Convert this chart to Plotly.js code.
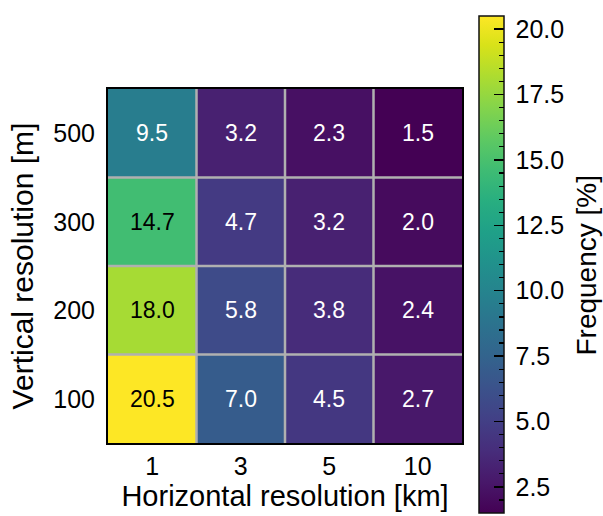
<!DOCTYPE html>
<html>
<head>
<meta charset="utf-8">
<script src="https://cdn.plot.ly/plotly-3.0.1.min.js"></script>
<style>html,body{margin:0;padding:0;background:#fff}#chart{width:603px;height:516px}</style>
</head>
<body>
<div id="chart"></div>
<script>
// Data
var horizontalRes = ['1', '3', '5', '10'];          // km
var verticalRes = ['100', '200', '300', '500'];     // m
var freq100 = [20.5, 7.0, 4.5, 2.7];
var freq200 = [18.0, 5.8, 3.8, 2.4];
var freq300 = [14.7, 4.7, 3.2, 2.0];
var freq500 = [9.5, 3.2, 2.3, 1.5];
var cbMajorTicks = [2.5, 5.0, 7.5, 10.0, 12.5, 15.0, 17.5, 20.0];
var cbMajorLabels = ['2.5', '5.0', '7.5', '10.0', '12.5', '15.0', '17.5', '20.0'];

var z = [freq100, freq200, freq300, freq500];
var zmin = 1.5, zmax = 20.5;
var xIdx = horizontalRes.map(function (_, i) { return i; });
var yIdx = verticalRes.map(function (_, i) { return i; });

var FONT = 'Liberation Sans, Arial, sans-serif';
var CLEAR = [[0, 'rgba(255,255,255,0)'], [1, 'rgba(255,255,255,0)']];

var cbMinorTicks = [];
for (var v = 2.0; v < 20.4; v += 0.5) {
  var r = Math.round(v * 10) / 10;
  if (Math.abs(r / 2.5 - Math.round(r / 2.5)) > 1e-6) cbMinorTicks.push(r);
}

function cbBase() {
  return {
    x: 1.048, xanchor: 'left', xpad: 0,
    y: 0.504, yanchor: 'middle', ypad: 0,
    len: 497, lenmode: 'pixels',
    thickness: 25, thicknessmode: 'pixels'
  };
}

// gradient + major ticks
var cbMain = cbBase();
cbMain.outlinewidth = 1.5; cbMain.outlinecolor = '#111';
cbMain.tickmode = 'array'; cbMain.tickvals = cbMajorTicks;
cbMain.ticks = 'inside'; cbMain.ticklen = 10; cbMain.tickwidth = 1.5; cbMain.tickcolor = '#000';
cbMain.showticklabels = false;

// minor ticks
var cbMinor = cbBase();
cbMinor.outlinewidth = 0;
cbMinor.tickmode = 'array'; cbMinor.tickvals = cbMinorTicks;
cbMinor.ticks = 'inside'; cbMinor.ticklen = 5; cbMinor.tickwidth = 1.2; cbMinor.tickcolor = '#000';
cbMinor.showticklabels = false;

// labels
var cbLabels = cbBase();
cbLabels.outlinewidth = 0;
cbLabels.tickmode = 'array'; cbLabels.tickvals = cbMajorTicks; cbLabels.ticktext = cbMajorLabels;
cbLabels.ticks = 'outside'; cbLabels.ticklen = 7; cbLabels.tickcolor = 'rgba(0,0,0,0)';
cbLabels.tickfont = {family: FONT, size: 25, color: '#000'};

var main = {
  type: 'heatmap', x: xIdx, y: yIdx, z: z, zmin: zmin, zmax: zmax,
  colorscale: 'Viridis', hoverinfo: 'skip', colorbar: cbMain
};
var minor = {
  type: 'heatmap', x: xIdx, y: yIdx, z: z, zmin: zmin, zmax: zmax,
  colorscale: CLEAR, hoverinfo: 'skip', colorbar: cbMinor
};
var labels = {
  type: 'heatmap', x: xIdx, y: yIdx, z: z, zmin: zmin, zmax: zmax,
  colorscale: CLEAR, hoverinfo: 'skip', colorbar: cbLabels
};

var annotations = [];
for (var i = 0; i < verticalRes.length; i++) {
  for (var j = 0; j < horizontalRes.length; j++) {
    var val = z[i][j];
    annotations.push({
      x: xIdx[j], y: yIdx[i], xref: 'x', yref: 'y',
      text: val.toFixed(1), showarrow: false,
      font: {family: FONT, size: 23, color: val > (zmin + zmax) / 2 ? '#000' : '#fff'}
    });
  }
}
annotations.push({
  xref: 'paper', yref: 'paper', x: 1.352, y: 0.503, xanchor: 'center', yanchor: 'middle',
  text: 'Frequency [%]', textangle: -90, showarrow: false,
  font: {family: FONT, size: 28, color: '#000'}
});

var shapes = [];
for (var k = 0; k < horizontalRes.length - 1; k++) {
  shapes.push({type: 'line', xref: 'x', yref: 'paper', x0: k + 0.5, x1: k + 0.5, y0: 0, y1: 1,
    line: {color: '#b0b0b0', width: 2.5}});
}
for (var m = 0; m < verticalRes.length - 1; m++) {
  shapes.push({type: 'line', xref: 'paper', yref: 'y', x0: 0, x1: 1, y0: m + 0.5, y1: m + 0.5,
    line: {color: '#b0b0b0', width: 2.5}});
}

var layout = {
  width: 603, height: 516,
  margin: {l: 108, r: 141, t: 89, b: 73, pad: 0},
  paper_bgcolor: '#fff', plot_bgcolor: '#fff',
  font: {family: FONT, color: '#000'},
  xaxis: {
    range: [-0.5, horizontalRes.length - 0.5],
    tickmode: 'array', tickvals: xIdx, ticktext: horizontalRes,
    showgrid: false, zeroline: false, ticks: '',
    showline: true, linewidth: 2, linecolor: '#000', mirror: true,
    tickfont: {family: FONT, size: 25, color: '#000'},
    title: {text: 'Horizontal resolution [km]', font: {family: FONT, size: 29, color: '#000'}, standoff: 4}
  },
  yaxis: {
    range: [-0.5, verticalRes.length - 0.5],
    tickmode: 'array', tickvals: yIdx, ticktext: verticalRes,
    showgrid: false, zeroline: false, ticks: '', ticklabelstandoff: 6,
    showline: true, linewidth: 2, linecolor: '#000', mirror: true,
    tickfont: {family: FONT, size: 25, color: '#000'},
    title: {text: 'Vertical resolution [m]', font: {family: FONT, size: 30, color: '#000'}, standoff: 11}
  },
  shapes: shapes,
  annotations: annotations,
  showlegend: false
};

Plotly.newPlot('chart', [main, minor, labels], layout, {displayModeBar: false, staticPlot: true});
</script>
</body>
</html>
